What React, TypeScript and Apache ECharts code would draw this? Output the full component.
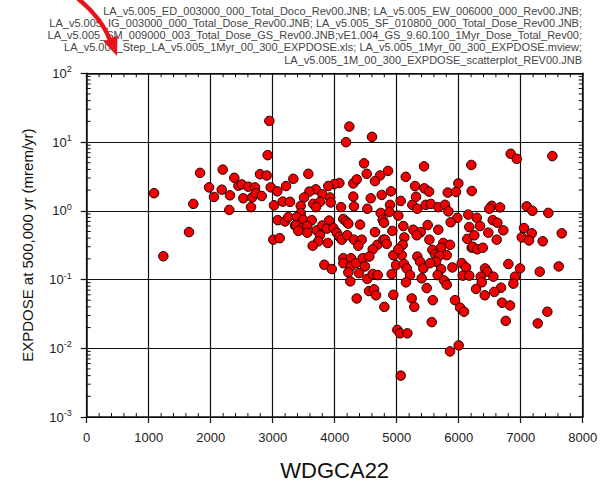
import React, { useEffect, useRef } from "react";
import * as echarts from "echarts";

const FONT = "'Liberation Sans', Arial, sans-serif";

const headerLines = [
  "LA_v5.005_ED_003000_000_Total_Doco_Rev00.JNB; LA_v5.005_EW_006000_000_Rev00.JNB;",
  "LA_v5.005_IG_003000_000_Total_Dose_Rev00.JNB; LA_v5.005_SF_010800_000_Total_Dose_Rev00.JNB;",
  "LA_v5.005_SM_009000_003_Total_Dose_GS_Rev00.JNB;vE1.004_GS_9.60.100_1Myr_Dose_Total_Rev00;",
  "LA_v5.005_Step_LA_v5.005_1Myr_00_300_EXPDOSE.xls; LA_v5.005_1Myr_00_300_EXPDOSE.mview;",
  "LA_v5.005_1M_00_300_EXPDOSE_scatterplot_REV00.JNB",
];

const xName = "WDGCA22";
const yName = "EXPDOSE at 500,000 yr (mrem/yr)";

const xMin = 0;
const xMax = 8000;
const xStep = 1000;
const yMin = 0.001;
const yMax = 100;

// WDGCA22 values
const wdgca22 = [
  1086, 1236, 1650, 1720, 1828,
  2946, 2919, 2194, 2795, 2903, 1973, 2053, 2178, 2381, 2311, 2300, 2446, 2500, 2607, 2715,
  2526, 2671, 2731, 2823, 2650, 2968, 3075, 3215, 3333, 3021, 3161, 3279, 3081, 3199, 3252,
  3360, 3010, 3113,
  4236, 4183, 4602, 4473, 4516, 4731, 4650, 3575, 4300, 4355, 4075, 3990, 3897, 3694, 3591,
  3505, 3800, 3925, 3452, 3655, 3763, 3699, 3935, 4102, 4300, 4311, 4581, 4526, 4758, 4742,
  3452, 3387, 3494, 3629, 3376, 3484, 3413, 3558, 3558, 3710, 3800, 3908, 3871, 3978, 4032,
  3763, 3736, 3888, 3645, 4075, 4113, 4139, 4183, 4220, 4203, 4311, 4436, 4381, 4409, 4650,
  4688, 4613, 4785, 3833, 3952, 4139, 4139, 4263, 4258, 4344, 4452, 4489, 4558, 4220, 4392,
  4252, 4526, 4613, 4694, 4554, 4635, 4667, 4355, 4801,
  5441, 5146, 4860, 6204, 5994, 5296, 5446, 5522, 5823, 5957, 6210, 4908, 5065, 4892, 5252,
  5333, 5468, 5549, 5671, 5779, 5833, 5978, 5871, 6155, 6171, 6139, 6210, 4881, 5026, 4774,
  4796, 5107, 4930, 5268, 5387, 5500, 5671, 5323, 5527, 5123, 4812, 4839, 5097, 5752, 5860,
  5715, 5807, 5575, 5618, 5687, 5634, 5081, 4946, 5026, 4989, 5118, 5162, 5333, 5376, 5430,
  5538, 5715, 5661, 5764, 5807, 5898, 6049, 6118, 6065, 6171, 5403, 5215, 5150, 4919, 5484,
  5242, 5284, 4946, 5581, 5941, 6022, 6086, 5565, 5010, 5054, 5172, 6000, 5860, 5065, 5312,
  6839, 6936, 7511, 6533, 6494, 6667, 7097, 7188, 7446, 6291, 6549, 6623, 6344, 6720, 6478,
  6252, 6613, 7054, 7178, 7017, 7134, 7355, 7662, 6226, 6300, 6388, 6801, 6989, 6425, 6462,
  6355, 6559, 6908, 6372, 6280, 6881, 6683, 6575, 6420, 7307, 7613, 6699, 6828, 6759, 7430,
  7275,
];

// EXPDOSE values (mrem/yr)
const expdose = [
  1.8, 0.218, 0.49, 1.26, 3.56,
  20.3, 6.45, 3.97, 3.4, 3.26, 2.19, 1.59, 2.03, 3.02, 1.68, 1.03, 2.32, 2.42, 2.24, 2.19,
  1.52, 1.57, 1.8, 1.64, 1.13, 2.19, 1.92, 2.29, 2.92, 1.2, 1.36, 1.35, 0.73, 0.7, 0.81,
  0.61, 0.38, 0.4,
  16.8, 9.95, 11.9, 4.9, 3.45, 3.26, 2.7, 3.45, 2.5, 2.86, 2.53, 2.44, 2.29, 2.05, 1.9,
  1.56, 1.74, 1.56, 1.18, 1.26, 1.35, 1.13, 1.32, 1.13, 1.61, 1.16, 1.52, 1.07, 1.7, 0.93,
  0.93, 0.81, 0.74, 0.73, 0.62, 0.56, 0.51, 0.6, 0.48, 0.52, 0.61, 0.72, 0.55, 0.56, 0.48,
  0.44, 0.36, 0.34, 0.31, 0.42, 0.38, 0.76, 0.7, 0.65, 0.44, 0.38, 0.38, 0.31, 0.63, 0.49,
  0.32, 0.275, 0.38, 0.164, 0.142, 0.204, 0.173, 0.204, 0.155, 0.173, 0.204, 0.155, 0.216, 0.127, 0.124,
  0.094, 0.102, 0.12, 0.116, 0.068, 0.072, 0.059, 0.053, 0.04,
  4.43, 3.12, 3.8, 4.64, 2.5, 2.29, 2.12, 1.9, 1.84, 1.88, 1.94, 1.92, 1.39, 1.22, 1.22,
  1.07, 1.22, 1.26, 1.13, 1.22, 0.98, 0.79, 0.68, 0.88, 0.58, 0.39, 0.29, 0.96, 0.85, 0.74,
  0.67, 0.6, 0.51, 0.53, 0.49, 0.62, 0.53, 0.44, 0.38, 0.41, 0.38, 0.33, 0.32, 0.34, 0.32,
  0.29, 0.226, 0.27, 0.233, 0.221, 0.182, 0.226, 0.226, 0.275, 0.162, 0.168, 0.145, 0.216, 0.182, 0.145,
  0.173, 0.142, 0.116, 0.097, 0.084, 0.15, 0.173, 0.15, 0.114, 0.114, 0.104, 0.116, 0.091, 0.12, 0.075,
  0.053, 0.04, 0.06, 0.05, 0.05, 0.039, 0.034, 0.024, 0.0185, 0.0165, 0.0165, 0.011, 0.009, 0.004, 1.6,
  6.75, 5.7, 6.25, 1.18, 1.07, 1.12, 1.16, 1.0, 0.93, 0.79, 0.73, 0.67, 0.6, 0.52, 0.48,
  0.44, 0.38, 0.56, 0.47, 0.41, 0.37, 0.36, 0.47, 0.3, 0.275, 0.29, 0.168, 0.145, 0.145, 0.13,
  0.11, 0.11, 0.11, 0.091, 0.073, 0.087, 0.076, 0.066, 0.059, 0.13, 0.155, 0.046, 0.042, 0.025, 0.034,
  0.023,
];

// minor tick positions
const xMinorTicks: number[] = [];
for (let v = 200; v < xMax; v += 200) if (v % 1000 !== 0) xMinorTicks.push(v);
const yMinorTicks: number[] = [];
for (let e = -3; e < 2; e++) for (let m = 2; m <= 9; m++) yMinorTicks.push(m * Math.pow(10, e));

const INK = "#111";

export default function App() {
  const ref = useRef<HTMLDivElement>(null);
  useEffect(() => {
    if (!ref.current) return;
    const chart = echarts.init(ref.current, null, { renderer: "svg" });
    const points = wdgca22.map((x, i) => [x, expdose[i]]);
    const tickLen = 4;
    const option: any = {
      animation: false,
      grid: { left: 86.7, right: 25.3, top: 73.3, bottom: 65, containLabel: false },
      xAxis: [
        {
          type: "value",
          min: xMin,
          max: xMax,
          interval: xStep,
          position: "bottom",
          name: xName,
          nameLocation: "middle",
          nameGap: 42,
          nameTextStyle: { fontSize: 22, color: INK, fontFamily: FONT },
          axisLine: { show: true, lineStyle: { color: INK, width: 1.5 } },
          axisTick: { show: true, inside: false, length: 6, lineStyle: { color: INK, width: 1.2 } },
          axisLabel: { fontSize: 13, color: "#222", margin: 14, fontFamily: FONT, formatter: (v: number) => String(v) },
          splitLine: { show: true, lineStyle: { color: INK, width: 1.2 } },
        },
        {
          type: "value",
          min: xMin,
          max: xMax,
          interval: xStep,
          position: "top",
          axisLine: { show: true, onZero: false, lineStyle: { color: INK, width: 1.5 } },
          axisTick: { show: false },
          axisLabel: { show: false },
          splitLine: { show: false },
        },
      ],
      yAxis: [
        {
          type: "log",
          logBase: 10,
          min: yMin,
          max: yMax,
          position: "left",
          name: yName,
          nameLocation: "middle",
          nameGap: 52,
          nameTextStyle: { fontSize: 15, color: INK, fontFamily: FONT },
          axisLine: { show: true, onZero: false, lineStyle: { color: INK, width: 1.5 } },
          axisTick: { show: true, inside: false, length: 6, lineStyle: { color: INK, width: 1.2 } },
          axisLabel: {
            margin: 15,
            formatter: (v: number) => `{b|10}{s|${Math.round(Math.log10(v))}}`,
            rich: {
              b: { fontSize: 13, color: "#222", fontFamily: FONT },
              s: { fontSize: 9, color: "#222", fontFamily: FONT, padding: [0, 0, 8, 0] },
            },
          },
          splitLine: { show: true, lineStyle: { color: INK, width: 1.2 } },
        },
        {
          type: "log",
          logBase: 10,
          min: yMin,
          max: yMax,
          position: "right",
          axisLine: { show: true, onZero: false, lineStyle: { color: INK, width: 1.5 } },
          axisTick: { show: false },
          axisLabel: { show: false },
          splitLine: { show: false },
        },
      ],
      series: [
        {
          type: "custom",
          silent: true,
          xAxisIndex: 0,
          yAxisIndex: 0,
          clip: false,
          data: yMinorTicks.map((v) => [xMin, v]),
          renderItem: (params: any, api: any) => {
            const v = api.value(1);
            const a = api.coord([xMin, v]);
            const b = api.coord([xMax, v]);
            return {
              type: "group",
              children: [
                { type: "line", shape: { x1: a[0], y1: a[1], x2: a[0] + tickLen, y2: a[1] }, style: { stroke: INK, lineWidth: 1 } },
                { type: "line", shape: { x1: b[0] - tickLen, y1: b[1], x2: b[0], y2: b[1] }, style: { stroke: INK, lineWidth: 1 } },
              ],
            };
          },
        },
        {
          type: "custom",
          silent: true,
          xAxisIndex: 0,
          yAxisIndex: 0,
          clip: false,
          data: xMinorTicks.map((v) => [v, 1]),
          renderItem: (params: any, api: any) => {
            const v = api.value(0);
            const a = api.coord([v, yMin]);
            const b = api.coord([v, yMax]);
            return {
              type: "group",
              children: [
                { type: "line", shape: { x1: a[0], y1: a[1], x2: a[0], y2: a[1] - tickLen }, style: { stroke: INK, lineWidth: 1 } },
                { type: "line", shape: { x1: b[0], y1: b[1], x2: b[0], y2: b[1] + tickLen }, style: { stroke: INK, lineWidth: 1 } },
              ],
            };
          },
        },
        {
          type: "scatter",
          xAxisIndex: 0,
          yAxisIndex: 0,
          symbol: "circle",
          symbolSize: 9.5,
          itemStyle: { color: "#f00000", borderColor: "#1a0000", borderWidth: 1, opacity: 1 },
          data: points,
          z: 5,
        },
      ],
      graphic: [
        ...headerLines.map((t, i) => ({
          type: "text",
          right: 26,
          top: 5 + i * 12.3,
          style: { text: t, fill: "#444", font: `11px ${FONT}`, textAlign: "right" },
        })),
        {
          type: "bezierCurve",
          shape: { x1: 76, y1: -3, cpx1: 91, cpy1: 9, cpx2: 104, cpy2: 24, x2: 110, y2: 40 },
          style: { stroke: "#e8141b", lineWidth: 4.5, fill: null },
          z: 10,
        },
        {
          type: "polygon",
          shape: { points: [[117, 56], [103.5, 41.5], [117.5, 35.5]] },
          style: { fill: "#e8141b" },
          z: 10,
        },
      ],
    };
    chart.setOption(option);
    return () => chart.dispose();
  }, []);
  return (
    <div
      ref={ref}
      style={{ position: "absolute", left: 0, top: 0, width: 608, height: 486, background: "#fff" }}
    />
  );
}
